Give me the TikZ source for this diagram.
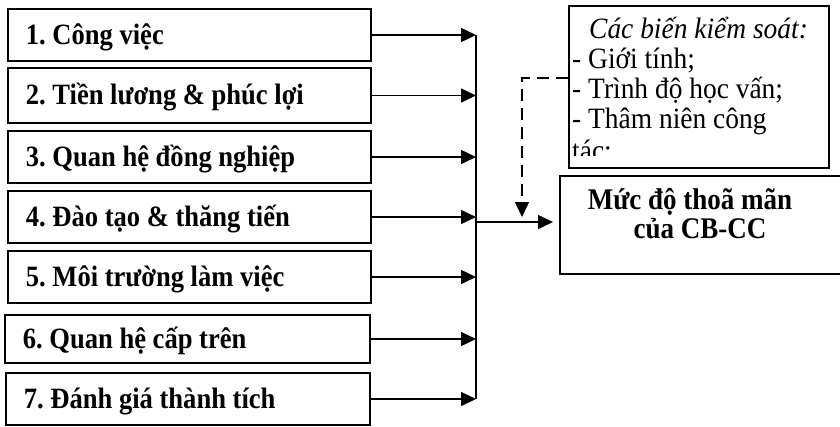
\documentclass[tikz,border=0pt]{standalone}
\usepackage{fontspec}
\setmainfont{Liberation Serif}[FakeStretch=0.93,
  BoldFeatures={FakeStretch=0.9},
  ItalicFeatures={FakeStretch=0.93}]
\usetikzlibrary{arrows.meta}
\newcommand{\factortext}[1]{\makebox[327bp][l]{#1}}
\begin{document}
\frenchspacing
\begin{tikzpicture}[x=1bp,y=-1bp,
  factor/.style={draw, line width=1.8bp, rectangle, minimum width=363bp,
    inner xsep=18bp, inner ysep=0pt, anchor=west,
    text height=18bp, text depth=0pt,
    font=\fontsize{29.5bp}{30bp}\selectfont\bfseries\frenchspacing},
  box/.style={draw, line width=1.8bp, rectangle, inner sep=0pt, anchor=north west},
  link/.style={line width=1.5bp, -{Triangle[length=15bp,width=14bp]}},
  ctrltext/.style={anchor=base west, inner sep=0pt, font=\fontsize{29.5bp}{30bp}\selectfont\frenchspacing},
  outtext/.style={anchor=base, inner sep=0pt, font=\fontsize{30bp}{30bp}\selectfont\bfseries\frenchspacing},
  dashlink/.style={line width=1.5bp, dash pattern=on 12bp off 7bp, -{Triangle[length=15bp,width=14bp]}}
]
\useasboundingbox (0,0) rectangle (840,426);

% factor boxes
\node[factor, minimum height=52bp] (f1) at (7,35) {\factortext{1. Công việc}};
\node[factor, minimum height=55bp] (f2) at (7,95.5) {\factortext{2. Tiền lương \& phúc lợi}};
\node[factor, minimum height=52bp] (f3) at (7,157) {\factortext{3. Quan hệ đồng nghiệp}};
\node[factor, minimum height=52bp] (f4) at (7,217) {\factortext{4. Đào tạo \& thăng tiến}};
\node[factor, minimum height=52bp] (f5) at (7,277) {\factortext{5. Môi trường làm việc}};
\node[factor, minimum height=48bp, minimum width=365bp] (f6) at (4,339) {\makebox[329bp][l]{6. Quan hệ cấp trên}};
\node[factor, minimum height=52bp, minimum width=364bp] (f7) at (5,399) {\makebox[328bp][l]{7. Đánh giá thành tích}};

% bus coordinates
\coordinate (b1) at (476,35);
\coordinate (b2) at (476,95.5);
\coordinate (b3) at (476,157);
\coordinate (b4) at (476,217);
\coordinate (b5) at (476,277);
\coordinate (b6) at (476,339);
\coordinate (b7) at (476,399);
\foreach \i in {1,...,7} { \draw[link] (f\i.east) -- (b\i); }
\draw[line width=1.5bp] (b1) -- (b7);

% outcome box
\node[box, minimum width=300bp, minimum height=98bp] (out) at (559,175) {};
\node[outtext] (o1) at (690,209) {Mức độ thoã mãn};
\node[outtext] (o2) at (700,238) {của CB-CC};
\coordinate (m) at (476,222);
\draw[link, shorten >=6bp] (m) -- (m -| out.west);

% control box
\node[box, minimum width=260bp, minimum height=162bp] (ctrl) at (568,5) {};
\begin{scope}
\clip (569,6) rectangle (827,155);
\node[ctrltext] (c1) at (589,38) {\textit{Các biến kiểm soát:}};
\node[ctrltext] (c2) at (572,68) {- Giới tính;};
\node[ctrltext] (c3) at (572,98) {- Trình độ học vấn;};
\node[ctrltext] (c4) at (572,128) {- Thâm niên công};
\node[ctrltext] (c5) at (572,160) {tác;};
\end{scope}

% dashed control link
\coordinate (dy) at (0,78);
\coordinate (dt) at (522,217);
\draw[dashlink] (ctrl.west |- dy) -| (dt);
\end{tikzpicture}
\end{document}
